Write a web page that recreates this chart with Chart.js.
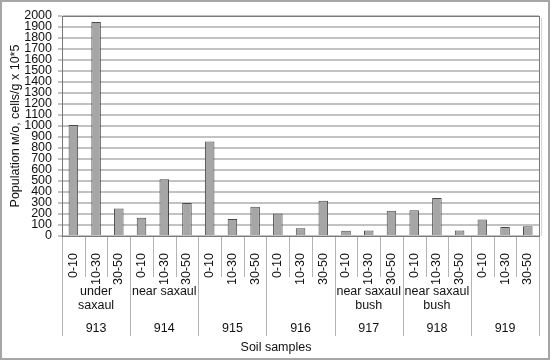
<!DOCTYPE html>
<html>
<head>
<meta charset="utf-8">
<script src="https://cdn.jsdelivr.net/npm/chart.js@4/dist/chart.umd.min.js"></script>
<style>
  html, body { margin: 0; padding: 0; background: #fff; }
  canvas { display: block; }
</style>
</head>
<body>
<canvas id="chart" width="552" height="362"></canvas>
<script>
const samples = ['913', '914', '915', '916', '917', '918', '919'];
const sites = [['under', 'saxaul'], ['near saxaul'], [], [], ['near saxaul', 'bush'], ['near saxaul', 'bush'], []];
const depths = ['0-10', '10-30', '30-50'];
const population = [1010, 1945, 250, 165, 515, 300, 860, 155, 265, 205, 70, 320, 48, 50, 230, 233, 345, 50, 150, 82, 88];
const yTitle = 'Population м/о, cells/g x 10*5';
const xTitle = 'Soil samples';

const FONT = 'Liberation Sans, Arial, sans-serif';
const labels = [];
samples.forEach(() => depths.forEach(d => labels.push(d)));

// multi-level category axis, frames and axis title drawn under the plot
const groupAxis = {
  id: 'groupAxis',
  afterDraw(chart) {
    const ctx = chart.ctx;
    const area = chart.chartArea;
    const x = chart.scales.x;
    const n = labels.length;
    const per = depths.length;
    const edge = i => {
      if (i === 0) return area.left;
      if (i === n) return area.right;
      return (x.getPixelForValue(i - 1) + x.getPixelForValue(i)) / 2;
    };
    ctx.save();
    ctx.strokeStyle = '#b4b4b4';
    ctx.lineWidth = 1;
    for (let i = 0; i <= n; i++) {
      const px = Math.round(edge(i)) + 0.5;
      const low = (i % per === 0) ? 336 : 277;
      ctx.beginPath();
      ctx.moveTo(px, area.bottom);
      ctx.lineTo(px, low);
      ctx.stroke();
    }
    ctx.fillStyle = '#111';
    ctx.font = '12.5px ' + FONT;
    ctx.textAlign = 'center';
    ctx.textBaseline = 'middle';
    samples.forEach((s, g) => {
      const cx = (edge(g * per) + edge(g * per + per)) / 2;
      sites[g].forEach((line, k) => ctx.fillText(line, cx, 292 + k * 14));
      ctx.fillText(s, cx, 329);
    });
    ctx.fillText(xTitle, 276, 348);

    // plot area border with a soft shadow
    ctx.strokeStyle = '#d0d0d0';
    ctx.lineWidth = 1;
    ctx.beginPath();
    ctx.moveTo(area.right + 2.5, area.top + 2);
    ctx.lineTo(area.right + 2.5, area.bottom);
    ctx.stroke();
    ctx.strokeStyle = '#7a7a7a';
    ctx.strokeRect(Math.round(area.left) + 0.5, Math.round(area.top) + 0.5,
      Math.round(area.right - area.left), Math.round(area.bottom - area.top));

    // outer frame
    ctx.strokeStyle = '#a6a6a6';
    ctx.lineWidth = 2;
    ctx.strokeRect(1, 1, 548, 358);
    ctx.restore();
  }
};

new Chart(document.getElementById('chart'), {
  type: 'bar',
  data: {
    labels,
    datasets: [{
      data: population,
      backgroundColor: '#a6a6a6',
      borderColor: '#4a4a4a',
      borderWidth: 1,
      barPercentage: 0.42,
      categoryPercentage: 1
    }]
  },
  options: {
    responsive: false,
    animation: false,
    layout: { padding: { top: 16, right: 9, left: 0, bottom: 0 } },
    plugins: { legend: { display: false }, tooltip: { enabled: false } },
    scales: {
      x: {
        grid: { display: false },
        border: { display: false },
        ticks: {
          autoSkip: false,
          minRotation: 90,
          maxRotation: 90,
          padding: 9,
          color: '#111',
          font: { family: FONT, size: 12.5 }
        },
        afterFit(scale) { scale.height = 126; }
      },
      y: {
        min: 0,
        max: 2000,
        grid: { color: '#c2c2c2', lineWidth: 2, tickLength: 4 },
        border: { color: '#7a7a7a', width: 1 },
        ticks: {
          stepSize: 100,
          autoSkip: false,
          padding: 6,
          color: '#111',
          font: { family: FONT, size: 12.5 },
          callback: v => String(v)
        },
        title: {
          display: true,
          text: yTitle,
          color: '#111',
          padding: { top: 8, bottom: 0 },
          font: { family: FONT, size: 12.5 }
        },
        afterFit(scale) { scale.width = 62; }
      }
    }
  },
  plugins: [groupAxis]
});
</script>
</body>
</html>
